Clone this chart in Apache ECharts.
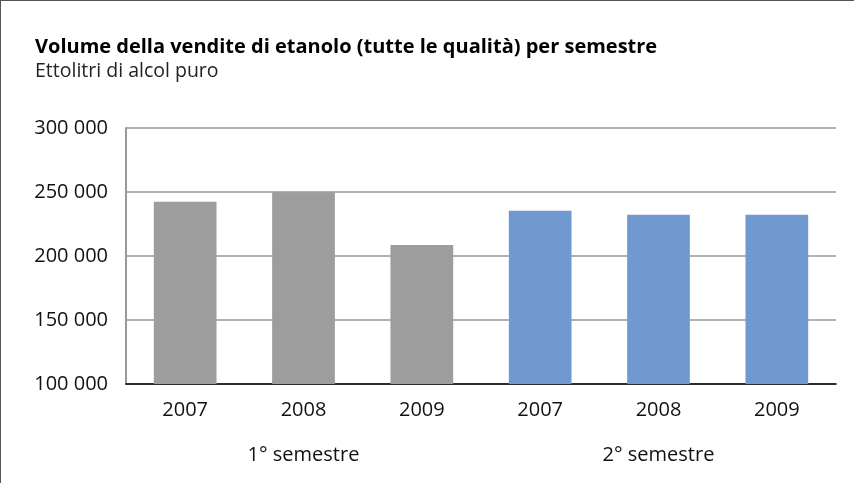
<!DOCTYPE html>
<html>
<head>
<meta charset="utf-8">
<script src="https://cdn.jsdelivr.net/npm/echarts@6/dist/echarts.min.js"></script>
<style>
  html, body { margin: 0; padding: 0; background: #fff; }
  #chart { width: 854px; height: 483px; box-sizing: border-box; border: 1px solid #555; border-right: 0; border-bottom: 0; }
</style>
</head>
<body>
<div id="chart"></div>
<script>
// anni per ogni semestre
const years = ['2007', '2008', '2009', '2007', '2008', '2009'];
const semesters = ['1° semestre', '2° semestre'];
// ettolitri di alcol puro
const volumes = [242400, 249800, 208600, 235300, 232200, 232200];
const barColors = ['#9d9d9d', '#9d9d9d', '#9d9d9d', '#7099d0', '#7099d0', '#7099d0'];

const chart = echarts.init(document.getElementById('chart'));
const font = 'Open Sans';

var option = {
  animation: false,
  textStyle: { fontFamily: font },
  title: {
    text: 'Volume della vendite di etanolo (tutte le qualità) per semestre',
    subtext: 'Ettolitri di alcol puro',
    left: 29,
    top: 31,
    itemGap: 4,
    textStyle: { fontFamily: font, fontSize: 20, fontWeight: 'bold', color: '#000', letterSpacing: -0.3 },
    subtextStyle: { fontFamily: font, fontSize: 19.5, color: '#222', letterSpacing: -0.3 }
  },
  grid: { left: 125, right: 18, top: 127, bottom: 99 },
  xAxis: [
    {
      type: 'category',
      data: years,
      axisLine: { lineStyle: { color: '#000', width: 1.5 } },
      axisTick: { show: false },
      axisLabel: { fontSize: 20, color: '#111', margin: 16 }
    },
    {
      type: 'category',
      data: semesters,
      position: 'bottom',
      axisLine: { show: false },
      axisTick: { show: false },
      axisLabel: { fontSize: 20, color: '#111', margin: 61 }
    }
  ],
  yAxis: {
    type: 'value',
    min: 100000,
    max: 300000,
    interval: 50000,
    axisLine: { show: true, lineStyle: { color: '#999', width: 2 } },
    axisTick: { show: false },
    splitLine: { lineStyle: { color: '#999', width: 1.5 } },
    axisLabel: {
      fontSize: 20,
      color: '#111',
      margin: 18,
      formatter: v => String(v).replace(/\B(?=(\d{3})+(?!\d))/g, ' ')
    }
  },
  series: [{
    type: 'bar',
    xAxisIndex: 0,
    data: volumes.map((v, i) => ({ value: v, itemStyle: { color: barColors[i] } })),
    barWidth: '53%'
  }]
};
chart.setOption(option);
</script>
</body>
</html>
